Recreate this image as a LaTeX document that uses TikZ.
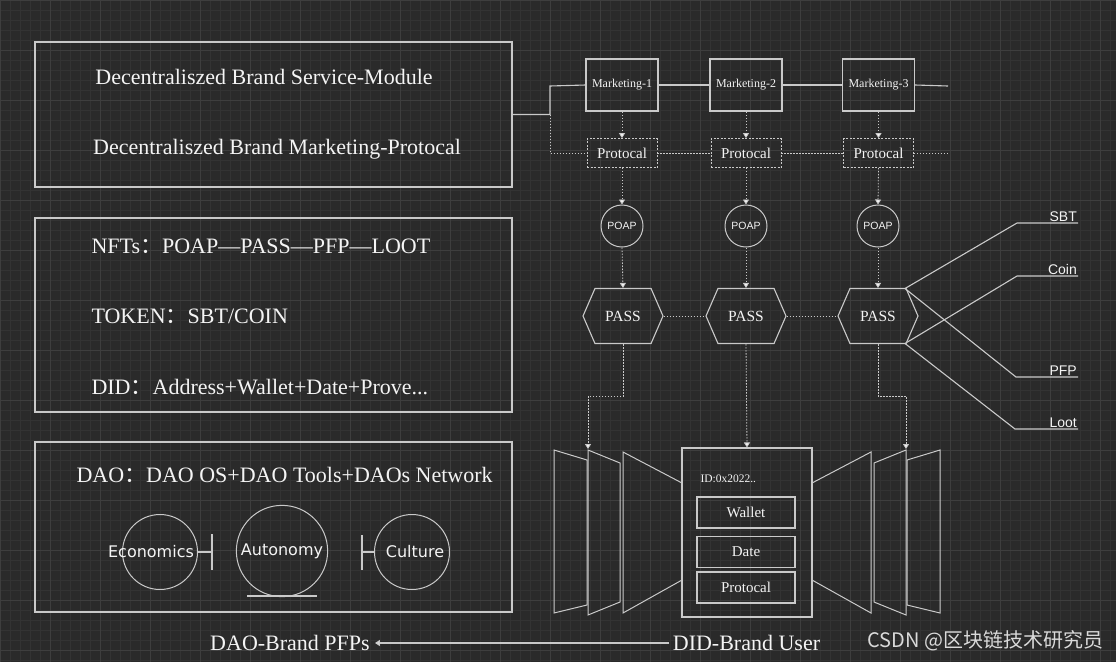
\documentclass[tikz,border=0pt]{standalone}
\usepackage{fontspec}
\setmainfont{Liberation Serif}
\newfontfamily\labelfont{Liberation Sans}
\newfontfamily\roundfont{DejaVu Sans}
\newfontfamily\cjk{Noto Sans CJK SC}
\usetikzlibrary{arrows.meta, shapes.symbols}
\definecolor{bgdark}{HTML}{2A2A2A}
\definecolor{gridfaint}{HTML}{333333}
\definecolor{gridmajor}{HTML}{3E3E3E}
\definecolor{linegray}{HTML}{CACACA}
\definecolor{textwhite}{HTML}{F4F4F4}
\definecolor{markgray}{HTML}{DADADA}

\begin{document}
\begin{tikzpicture}[x=1pt, y=-1pt,
  every node/.style={text=textwhite},
  line/.style={draw=linegray, line width=1.1pt},
  dline/.style={draw=linegray, line width=0.8pt, dash pattern=on 1.5pt off 1.5pt},
  dto/.style={dline, -{Triangle[width=6pt, length=5pt, fill=textwhite]}},
  frame/.style={draw=linegray, line width=1.4pt, inner sep=0pt},
  bigtext/.style={font=\fontsize{22}{26}\selectfont},
  mkbox/.style={frame, line width=1.1pt, minimum width=72pt, minimum height=52pt, font=\fontsize{12}{13}\selectfont},
  protobox/.style={draw=linegray, line width=0.8pt, dash pattern=on 2pt off 1.5pt, minimum width=70pt, minimum height=29pt, inner sep=0pt, font=\fontsize{15}{16}\selectfont},
  poapnode/.style={circle, draw=linegray, line width=1pt, minimum size=42pt, inner sep=0pt, font=\labelfont\fontsize{10.5}{11}\selectfont},
  passnode/.style={signal, signal to=west and east, signal pointer angle=133, draw=linegray, line width=1.1pt, minimum width=80pt, minimum height=55pt, inner sep=0pt, font=\fontsize{15.5}{16}\selectfont},
  idbox/.style={frame, line width=1.1pt, minimum width=98pt, minimum height=31pt, font=\fontsize{15}{16}\selectfont},
  tokenlabel/.style={anchor=south east, inner sep=1pt, font=\labelfont\fontsize{14}{15}\selectfont},
  roundlabel/.style={font=\roundfont\fontsize{16}{18}\selectfont},
  panel/.style={draw=linegray, line width=1pt}]

% background and grid
\fill[bgdark] (0,0) rectangle (1116,662);
\useasboundingbox (0,0) rectangle (1116,662);
\foreach \gx in {0,10,...,1116} \draw[gridfaint, line width=0.4pt] (\gx,0) -- (\gx,662);
\foreach \gy in {0,10,...,662} \draw[gridfaint, line width=0.4pt] (0,\gy) -- (1116,\gy);
\foreach \gx in {0,50,...,1116} \draw[gridmajor, line width=0.7pt] (\gx,0) -- (\gx,662);
\foreach \gy in {0,50,...,662} \draw[gridmajor, line width=0.7pt] (0,\gy) -- (1116,\gy);

% left column
\node[frame, minimum width=477pt, minimum height=145pt] (svcbox) at (273.5,114.5) {};
\node[bigtext] (svcline) at (264,77) {Decentraliszed Brand Service-Module};
\node[bigtext] (mktline) at (277,149) {Decentraliszed Brand Marketing-Protocal};

\node[frame, minimum width=477pt, minimum height=194pt] (nftbox) at (273.5,315) {};
\node[bigtext, anchor=west] (nftline) at (88,246) {NFTs{\cjk ：}POAP—PASS—PFP—LOOT};
\node[bigtext, anchor=west] (tokenline) at (88,316) {TOKEN{\cjk ：}SBT/COIN};
\node[bigtext, anchor=west] (didline) at (88,387) {DID{\cjk ：}Address+Wallet+Date+Prove...};

\node[frame, minimum width=477pt, minimum height=170pt] (daobox) at (273.5,527) {};
\node[bigtext, anchor=west] (daoline) at (73,475) {DAO{\cjk ：}DAO OS+DAO Tools+DAOs Network};
\node[circle, draw=linegray, line width=1pt, minimum size=75pt] (econ) at (160,552) {};
\node[roundlabel] (econtext) at (151,552) {Economics};
\node[circle, draw=linegray, line width=1pt, minimum size=89pt, roundlabel] (auto) at (282,551) {Autonomy};
\node[circle, draw=linegray, line width=1pt, minimum size=75pt] (cult) at (412,552) {};
\node[roundlabel] (culttext) at (415,552) {Culture};
\coordinate (econbar) at (212,552);
\coordinate (cultbar) at (362,552);
\draw[line] (econ.east) -- (econbar);
\draw[line] (212,534) -- (212,570);
\draw[line] (cultbar) -- (cult.west);
\draw[line] (362,535) -- (362,570);
\draw[line] (247,596) -- (317,596);

% marketing row
\node[mkbox] (mk1) at (622,85) {Marketing-1};
\node[mkbox] (mk2) at (746,85) {Marketing-2};
\node[mkbox] (mk3) at (878.5,85) {Marketing-3};
\node[protobox] (pr1) at (622,153) {Protocal};
\node[protobox] (pr2) at (746,153) {Protocal};
\node[protobox] (pr3) at (878.5,153) {Protocal};
\coordinate (busleft) at (550,86);
\coordinate (busjoin) at (550,114.5);
\coordinate (busright) at (948,86);
\coordinate (dashleft) at (550,153);
\coordinate (dashright) at (948,153);
\draw[line] (svcbox.east) -- (busjoin) -- (busleft) -- (mk1.west);
\draw[line] (mk1.east) -- (mk2.west);
\draw[line] (mk2.east) -- (mk3.west);
\draw[line] (mk3.east) -- (busright);
\draw[dline] (busjoin) -- (dashleft) -- (pr1.west);
\draw[dline] (pr1.east) -- (pr2.west);
\draw[dline] (pr2.east) -- (pr3.west);
\draw[dline] (pr3.east) -- (dashright);

% POAP and PASS
\node[poapnode] (poap1) at (622,226) {POAP};
\node[poapnode] (poap2) at (746,226) {POAP};
\node[poapnode] (poap3) at (878,226) {POAP};
\node[passnode] (pass1) at (623,316) {PASS};
\node[passnode] (pass2) at (746,316) {PASS};
\node[passnode] (pass3) at (878,316) {PASS};
\foreach \i in {1,2,3} {
  \draw[dto] (mk\i.south) -- (pr\i.north);
  \draw[dto] (pr\i.south) -- (poap\i.north);
  \draw[dto] (poap\i.south) -- (pass\i.north);
}
\draw[dline] (pass1.east) -- (pass2.west);
\draw[dline] (pass2.east) -- (pass3.west);

% tokens
\coordinate (hexne) at (905,288.5);
\coordinate (hexse) at (905,343.5);
\node[tokenlabel] (sbt) at (1078,223) {SBT};
\node[tokenlabel] (coin) at (1078,276) {Coin};
\node[tokenlabel] (pfp) at (1078,377) {PFP};
\node[tokenlabel] (loot) at (1078,429) {Loot};
\draw[line] (hexne) -- (1017,223) -- (sbt.south east);
\draw[line] (hexse) -- (1017,276) -- (coin.south east);
\draw[line] (hexne) -- (1016,377) -- (pfp.south east);
\draw[line] (hexse) -- (1015,429) -- (loot.south east);

% DID user
\node[frame, line width=1.1pt, minimum width=130pt, minimum height=169pt] (idbox) at (747,532.5) {};
\node[anchor=west, font=\fontsize{11.5}{12}\selectfont] (idtext) at (697,479) {ID:0x2022..};
\node[idbox] (wallet) at (746,512.5) {Wallet};
\node[idbox] (date) at (746,552) {Date};
\node[idbox] (idproto) at (746,587.5) {Protocal};

\draw[panel] (554,450) -- (587,460) -- (587,605) -- (554,613) -- cycle;
\draw[panel] (588,450) -- (620,463) -- (620,602) -- (588,615) -- cycle;
\draw[panel] (623,452) -- (682,483) -- (682,580) -- (623,613) -- cycle;
\draw[panel] (940,450) -- (907,460) -- (907,605) -- (940,613) -- cycle;
\draw[panel] (906,450) -- (874,463) -- (874,602) -- (906,615) -- cycle;
\draw[panel] (871,452) -- (812,483) -- (812,580) -- (871,613) -- cycle;

\coordinate (lpanel) at (588,449);
\coordinate (rpanel) at (906,449);
\draw[dto] (pass1.south) -- ++(0,52) -| (lpanel);
\draw[dto] (pass2.south) -- (idbox.north);
\draw[dto] (pass3.south) -- ++(0,52) -| (rpanel);

% bottom line
\node[bigtext] (didtext) at (746.5,643) {DID-Brand User};
\node[bigtext, inner sep=5pt] (daotext) at (290,643) {DAO-Brand PFPs};
\draw[draw=linegray, line width=1.5pt, -{Triangle[width=6pt, length=5pt, fill=textwhite]}] (didtext.west) -- (daotext.east);

\node[anchor=west, text=markgray, font=\cjk\fontsize{20}{22}\selectfont] (csdnmark) at (864,641) {CSDN @区块链技术研究员};
\end{tikzpicture}
\end{document}
